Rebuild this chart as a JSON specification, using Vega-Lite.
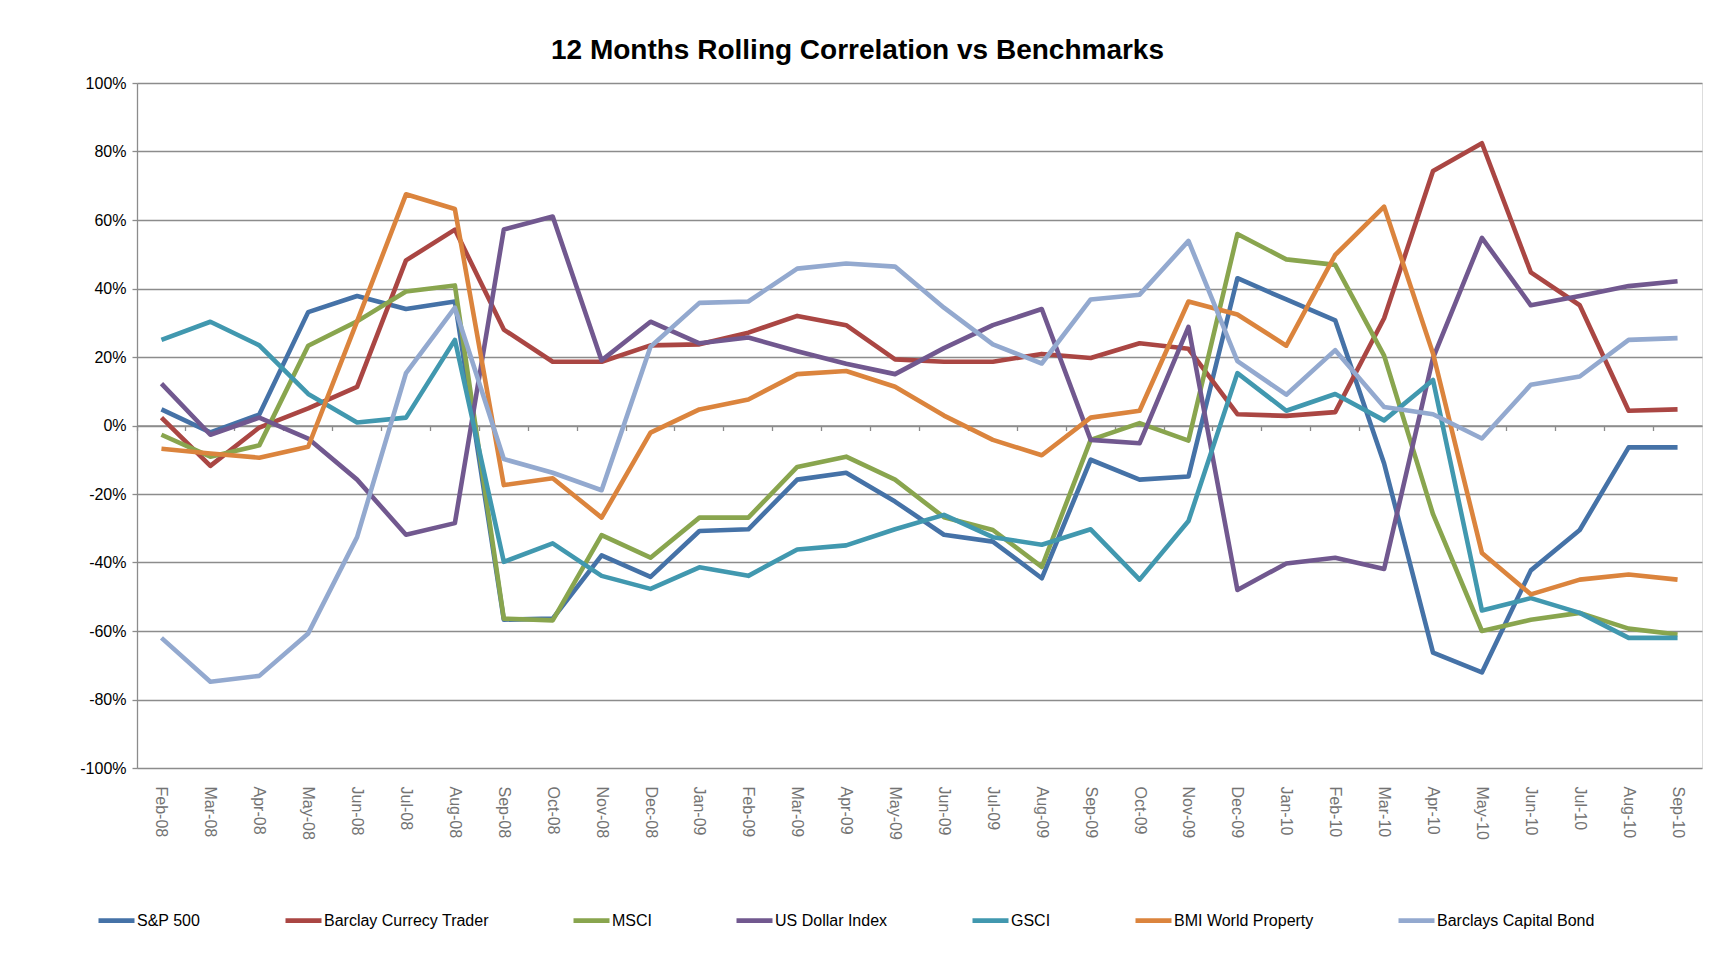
{
  "$schema": "https://vega.github.io/schema/vega-lite/v6.json",
  "width": 1565,
  "height": 685,
  "autosize": {"type": "none"},
  "padding": {"left": 137, "top": 83, "right": 17, "bottom": 188},
  "background": "white",
  "title": {
    "text": "12  Months Rolling Correlation vs Benchmarks",
    "font": "Liberation Sans",
    "fontSize": 28,
    "fontWeight": "bold",
    "color": "#000000",
    "anchor": "middle",
    "frame": "group",
    "dx": -62,
    "offset": 10
  },
  "data": {
    "values": [
      {"month": "Feb-08", "S&P 500": 4.7, "Barclay Currecy Trader": 2.3, "MSCI": -2.7, "US Dollar Index": 12.2, "GSCI": 25.0, "BMI World Property": -6.8, "Barclays Capital Bond": -62.0},
      {"month": "Mar-08", "S&P 500": -2.0, "Barclay Currecy Trader": -11.8, "MSCI": -9.1, "US Dollar Index": -2.7, "GSCI": 30.3, "BMI World Property": -8.2, "Barclays Capital Bond": -74.8},
      {"month": "Apr-08", "S&P 500": 3.2, "Barclay Currecy Trader": -0.6, "MSCI": -5.8, "US Dollar Index": 2.3, "GSCI": 23.4, "BMI World Property": -9.4, "Barclays Capital Bond": -73.1},
      {"month": "May-08", "S&P 500": 33.1, "Barclay Currecy Trader": 5.0, "MSCI": 23.3, "US Dollar Index": -3.8, "GSCI": 9.2, "BMI World Property": -6.2, "Barclays Capital Bond": -60.7},
      {"month": "Jun-08", "S&P 500": 37.8, "Barclay Currecy Trader": 11.3, "MSCI": 30.4, "US Dollar Index": -15.8, "GSCI": 0.9, "BMI World Property": 30.4, "Barclays Capital Bond": -32.6},
      {"month": "Jul-08", "S&P 500": 34.0, "Barclay Currecy Trader": 48.2, "MSCI": 39.1, "US Dollar Index": -31.9, "GSCI": 2.3, "BMI World Property": 67.5, "Barclays Capital Bond": 15.3},
      {"month": "Aug-08", "S&P 500": 36.2, "Barclay Currecy Trader": 57.2, "MSCI": 40.9, "US Dollar Index": -28.5, "GSCI": 25.0, "BMI World Property": 63.2, "Barclays Capital Bond": 34.4},
      {"month": "Sep-08", "S&P 500": -56.7, "Barclay Currecy Trader": 28.0, "MSCI": -56.4, "US Dollar Index": 57.2, "GSCI": -39.8, "BMI World Property": -17.4, "Barclays Capital Bond": -9.8},
      {"month": "Oct-08", "S&P 500": -56.4, "Barclay Currecy Trader": 18.6, "MSCI": -56.9, "US Dollar Index": 61.0, "GSCI": -34.4, "BMI World Property": -15.4, "Barclays Capital Bond": -13.8},
      {"month": "Nov-08", "S&P 500": -37.9, "Barclay Currecy Trader": 18.6, "MSCI": -32.0, "US Dollar Index": 19.0, "GSCI": -43.9, "BMI World Property": -26.9, "Barclays Capital Bond": -18.9},
      {"month": "Dec-08", "S&P 500": -44.2, "Barclay Currecy Trader": 23.4, "MSCI": -38.6, "US Dollar Index": 30.3, "GSCI": -47.7, "BMI World Property": -2.1, "Barclays Capital Bond": 23.0},
      {"month": "Jan-09", "S&P 500": -30.8, "Barclay Currecy Trader": 23.7, "MSCI": -26.9, "US Dollar Index": 24.0, "GSCI": -41.4, "BMI World Property": 4.7, "Barclays Capital Bond": 35.8},
      {"month": "Feb-09", "S&P 500": -30.3, "Barclay Currecy Trader": 27.1, "MSCI": -26.9, "US Dollar Index": 25.7, "GSCI": -43.9, "BMI World Property": 7.6, "Barclays Capital Bond": 36.2},
      {"month": "Mar-09", "S&P 500": -15.8, "Barclay Currecy Trader": 32.0, "MSCI": -12.1, "US Dollar Index": 21.7, "GSCI": -36.2, "BMI World Property": 15.0, "Barclays Capital Bond": 45.8},
      {"month": "Apr-09", "S&P 500": -13.8, "Barclay Currecy Trader": 29.3, "MSCI": -9.1, "US Dollar Index": 18.0, "GSCI": -35.0, "BMI World Property": 15.9, "Barclays Capital Bond": 47.3},
      {"month": "May-09", "S&P 500": -22.2, "Barclay Currecy Trader": 19.3, "MSCI": -15.8, "US Dollar Index": 15.0, "GSCI": -30.3, "BMI World Property": 11.3, "Barclays Capital Bond": 46.4},
      {"month": "Jun-09", "S&P 500": -31.9, "Barclay Currecy Trader": 18.6, "MSCI": -26.8, "US Dollar Index": 22.6, "GSCI": -26.1, "BMI World Property": 2.9, "Barclays Capital Bond": 34.4},
      {"month": "Jul-09", "S&P 500": -33.9, "Barclay Currecy Trader": 18.6, "MSCI": -30.5, "US Dollar Index": 29.3, "GSCI": -32.6, "BMI World Property": -4.2, "Barclays Capital Bond": 23.7},
      {"month": "Aug-09", "S&P 500": -44.6, "Barclay Currecy Trader": 20.9, "MSCI": -41.3, "US Dollar Index": 34.0, "GSCI": -34.8, "BMI World Property": -8.7, "Barclays Capital Bond": 18.1},
      {"month": "Sep-09", "S&P 500": -10.0, "Barclay Currecy Trader": 19.7, "MSCI": -4.2, "US Dollar Index": -4.2, "GSCI": -30.3, "BMI World Property": 2.3, "Barclays Capital Bond": 36.8},
      {"month": "Oct-09", "S&P 500": -15.8, "Barclay Currecy Trader": 24.0, "MSCI": 0.7, "US Dollar Index": -5.2, "GSCI": -45.0, "BMI World Property": 4.3, "Barclays Capital Bond": 38.2},
      {"month": "Nov-09", "S&P 500": -14.9, "Barclay Currecy Trader": 22.4, "MSCI": -4.4, "US Dollar Index": 28.8, "GSCI": -27.9, "BMI World Property": 36.2, "Barclays Capital Bond": 53.9},
      {"month": "Dec-09", "S&P 500": 43.0, "Barclay Currecy Trader": 3.3, "MSCI": 55.9, "US Dollar Index": -48.0, "GSCI": 15.3, "BMI World Property": 32.4, "Barclays Capital Bond": 18.8},
      {"month": "Jan-10", "S&P 500": 36.8, "Barclay Currecy Trader": 2.8, "MSCI": 48.5, "US Dollar Index": -40.3, "GSCI": 4.3, "BMI World Property": 23.3, "Barclays Capital Bond": 9.0},
      {"month": "Feb-10", "S&P 500": 30.7, "Barclay Currecy Trader": 3.9, "MSCI": 46.9, "US Dollar Index": -38.6, "GSCI": 9.2, "BMI World Property": 49.8, "Barclays Capital Bond": 22.0},
      {"month": "Mar-10", "S&P 500": -11.1, "Barclay Currecy Trader": 31.3, "MSCI": 20.4, "US Dollar Index": -41.9, "GSCI": 1.5, "BMI World Property": 63.9, "Barclays Capital Bond": 5.4},
      {"month": "Apr-10", "S&P 500": -66.3, "Barclay Currecy Trader": 74.3, "MSCI": -25.9, "US Dollar Index": 19.7, "GSCI": 13.3, "BMI World Property": 21.0, "Barclays Capital Bond": 3.3},
      {"month": "May-10", "S&P 500": -72.1, "Barclay Currecy Trader": 82.4, "MSCI": -60.0, "US Dollar Index": 54.8, "GSCI": -54.0, "BMI World Property": -37.2, "Barclays Capital Bond": -3.8},
      {"month": "Jun-10", "S&P 500": -42.3, "Barclay Currecy Trader": 44.7, "MSCI": -56.7, "US Dollar Index": 35.1, "GSCI": -50.4, "BMI World Property": -49.3, "Barclays Capital Bond": 11.9},
      {"month": "Jul-10", "S&P 500": -30.5, "Barclay Currecy Trader": 35.1, "MSCI": -54.7, "US Dollar Index": 37.8, "GSCI": -54.7, "BMI World Property": -45.0, "Barclays Capital Bond": 14.3},
      {"month": "Aug-10", "S&P 500": -6.4, "Barclay Currecy Trader": 4.3, "MSCI": -59.3, "US Dollar Index": 40.7, "GSCI": -62.0, "BMI World Property": -43.5, "Barclays Capital Bond": 25.0},
      {"month": "Sep-10", "S&P 500": -6.4, "Barclay Currecy Trader": 4.7, "MSCI": -61.0, "US Dollar Index": 42.1, "GSCI": -62.0, "BMI World Property": -45.0, "Barclays Capital Bond": 25.5}
    ]
  },
  "transform": [
    {"fold": ["S&P 500", "Barclay Currecy Trader", "MSCI", "US Dollar Index", "GSCI", "BMI World Property", "Barclays Capital Bond"], "as": ["series", "value"]}
  ],
  "encoding": {
    "y": {
      "field": "value",
      "type": "quantitative",
      "scale": {"domain": [-100, 100], "nice": false, "zero": false},
      "axis": {
        "title": null,
        "values": [-100, -80, -60, -40, -20, 0, 20, 40, 60, 80, 100],
        "labelExpr": "datum.value + '%'",
        "labelFont": "Liberation Sans",
        "labelFontSize": 16,
        "labelColor": "#000000",
        "labelPadding": 6,
        "domain": true,
        "domainColor": "#8c8c8c",
        "domainWidth": 1.3,
        "ticks": true,
        "tickColor": "#8c8c8c",
        "tickSize": 5,
        "tickWidth": 1.3,
        "grid": true,
        "gridColor": "#8c8c8c",
        "gridWidth": 1.3
      }
    }
  },
  "layer": [
    {
      "mark": {"type": "point", "opacity": 0},
      "encoding": {
        "x": {
          "field": "month",
          "type": "ordinal",
          "sort": null,
          "scale": {"type": "band", "paddingInner": 0, "paddingOuter": 0},
          "axis": {
            "orient": "bottom",
            "offset": -342.5,
            "title": null,
            "labels": false,
            "grid": false,
            "domain": true,
            "domainColor": "#8c8c8c",
            "domainWidth": 1.3,
            "ticks": true,
            "tickColor": "#8c8c8c",
            "tickSize": 5,
            "tickWidth": 1.3,
            "bandPosition": 0
          }
        }
      }
    },
    {
      "mark": {"type": "line", "strokeWidth": 4.6, "strokeJoin": "round"},
      "encoding": {
        "x": {
          "field": "month",
          "type": "ordinal",
          "sort": null,
          "bandPosition": 0.5,
          "scale": {"type": "band", "paddingInner": 0, "paddingOuter": 0},
          "axis": {
            "orient": "bottom",
            "title": null,
            "domain": false,
            "ticks": false,
            "grid": false,
            "labelAngle": 90,
            "labelAlign": "left",
            "labelBaseline": "middle",
            "labelFont": "Liberation Sans",
            "labelFontSize": 16,
            "labelColor": "#737373",
            "labelPadding": 18,
            "bandPosition": 0.5
          }
        },
        "color": {
          "field": "series",
          "type": "nominal",
          "sort": null,
          "scale": {
            "domain": ["S&P 500", "Barclay Currecy Trader", "MSCI", "US Dollar Index", "GSCI", "BMI World Property", "Barclays Capital Bond"],
            "range": ["#4572A7", "#AA4643", "#89A54E", "#71588F", "#4198AF", "#DB843D", "#93A9CF"]
          },
          "legend": {
            "orient": "none",
            "legendX": -41,
            "legendY": 817,
            "direction": "horizontal",
            "columns": 7,
            "title": null,
            "symbolType": "stroke",
            "symbolSize": 1296,
            "symbolStrokeWidth": 4.6,
            "labelFont": "Liberation Sans",
            "labelFontSize": 16,
            "labelColor": "#000000",
            "labelLimit": 400,
            "labelOffset": 0,
            "columnPadding": 75
          }
        }
      }
    }
  ],
  "resolve": {"axis": {"x": "independent"}}
}
